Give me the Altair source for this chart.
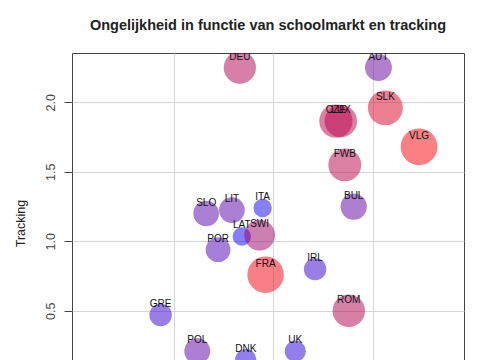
import altair as alt
import pandas as pd

landen = ["DEU", "AUT", "SLK", "CZE", "LUX", "VLG", "FWB", "BUL", "SLO", "LIT",
          "ITA", "LAT", "SWI", "POR", "FRA", "IRL", "ROM", "GRE", "POL", "DNK", "UK"]
schoolmarkt = [-0.34, 1.06, 1.13, 0.63, 0.68, 1.47, 0.72, 0.81, -0.68, -0.42,
               -0.11, -0.32, -0.14, -0.56, -0.08, 0.42, 0.76, -1.14, -0.77, -0.28, 0.22]
tracking = [2.25, 2.25, 1.96, 1.865, 1.865, 1.68, 1.55, 1.25, 1.20, 1.225,
            1.24, 1.035, 1.045, 0.94, 0.76, 0.80, 0.50, 0.47, 0.21, 0.15, 0.21]
ongelijkheid = [0.69, 0.40, 0.85, 0.75, 0.70, 0.97, 0.72, 0.37, 0.34, 0.34,
                 0.05, 0.05, 0.60, 0.30, 0.95, 0.20, 0.70, 0.20, 0.35, 0.15, 0.15]

df = pd.DataFrame({"land": landen, "schoolmarkt": schoolmarkt,
                   "tracking": tracking, "ongelijkheid": ongelijkheid})

FONT = "Liberation Sans"

x = alt.X("schoolmarkt:Q",
          scale=alt.Scale(domain=[-2.035, 1.924], nice=False, zero=False),
          axis=alt.Axis(values=[-1, 0, 1], title="Schoolmarkt", grid=True,
                        domain=False, tickSize=8, tickColor="#444",
                        labelFont=FONT, labelFontSize=12.5, labelColor="#444",
                        titleFont=FONT, titleFontSize=12.5, titleFontWeight="normal"))
y = alt.Y("tracking:Q",
          scale=alt.Scale(domain=[-0.091, 2.355], nice=False, zero=False),
          axis=alt.Axis(values=[0.5, 1.0, 1.5, 2.0], format=".1f", grid=True,
                        domain=False, tickSize=8, tickColor="#444",
                        labelAngle=-90, labelAlign="center", labelBaseline="alphabetic",
                        labelPadding=9.5, labelFont=FONT, labelFontSize=12.5,
                        labelColor="#444",
                        title="Tracking", titleX=-48, titleBaseline="alphabetic",
                        titleFont=FONT, titleFontSize=12.5, titleFontWeight="normal",
                        titleColor="#222"))

base = alt.Chart(df)

points = base.mark_circle(opacity=0.5, clip=True).encode(
    x=x, y=y,
    size=alt.Size("ongelijkheid:Q", scale=alt.Scale(domain=[0, 1], range=[283, 1385]),
                  legend=None),
    color=alt.Color("ongelijkheid:Q",
                    scale=alt.Scale(domain=[0, 1], range=["#0000ff", "#ff0000"],
                                    interpolate="rgb"),
                    legend=None),
)

labels = base.mark_text(dy=-11, fontSize=10, font=FONT, color="#111", clip=True).encode(
    x=x, y=y, text="land:N"
)

chart = (points + labels).properties(
    width=392, height=340,
    title=alt.TitleParams("Ongelijkheid in functie van schoolmarkt en tracking",
                          font=FONT, fontSize=14.5, fontWeight="bold", color="#222",
                          anchor="middle", offset=20),
    autosize=alt.AutoSizeParams(type="none"),
    padding={"left": 64, "top": 45, "right": 5, "bottom": 0},
).configure_view(stroke="#444", strokeWidth=1).configure_axis(
    gridColor="#d6d6d6", gridWidth=1
)

chart.save("out.html", embed_options={"renderer": "svg", "actions": False})
